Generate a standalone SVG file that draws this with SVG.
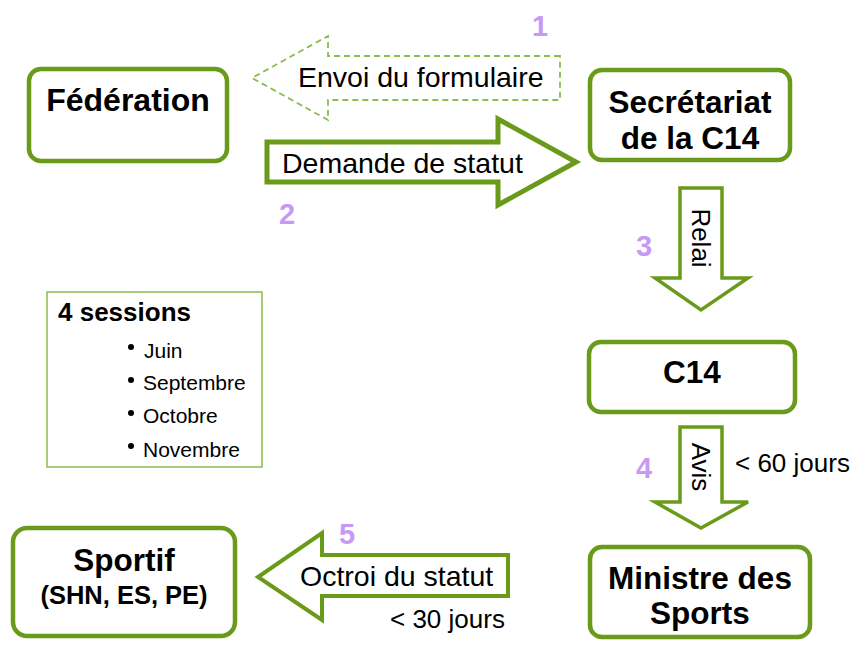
<svg xmlns="http://www.w3.org/2000/svg" width="852" height="646" viewBox="0 0 852 646">
<style>
.box{fill:#fff;stroke:#6a9a1a;stroke-width:4.5}
.arr{fill:#fff;stroke:#6a9a1a;stroke-linejoin:miter}
.t{font-family:"Liberation Sans",Arial,sans-serif;fill:#000}
.b{font-weight:bold}
.num{font-family:"Liberation Sans",Arial,sans-serif;font-weight:bold;fill:#c699f4;font-size:29px}
</style>
<rect width="852" height="646" fill="#fff"/>
<g id="connectors">
  <g id="envoi">
    <polygon points="560,56 328,56 328,36 252,78 328,120 328,100 560,100" fill="#fff" stroke="#8cbb4f" stroke-width="1.8" stroke-dasharray="6,4"/>
    <text class="t" x="298" y="87" font-size="28.5">Envoi du formulaire</text>
    <text class="num" x="540" y="36" text-anchor="middle">1</text>
  </g>
  <g id="demande">
    <polygon class="arr" stroke-width="5" points="267,142 498,142 498,119 576,162 498,205 498,182 267,182"/>
    <text class="t" x="282" y="173" font-size="28.5">Demande de statut</text>
    <text class="num" x="287" y="224" text-anchor="middle">2</text>
  </g>
  <g id="relai">
    <polygon class="arr" stroke-width="3.5" points="680,188 722,188 722,278 748,278 701,310 655,278 680,278"/>
    <text class="t" font-size="26" text-anchor="middle" transform="translate(701,238) rotate(90)" y="9">Relai</text>
    <text class="num" x="644" y="256" text-anchor="middle">3</text>
  </g>
  <g id="avis">
    <polygon class="arr" stroke-width="3.5" points="680,427 722,427 722,502 748,502 701,528 655,502 680,502"/>
    <text class="t" font-size="26" text-anchor="middle" transform="translate(701,467) rotate(90)" y="9">Avis</text>
    <text class="num" x="644" y="478" text-anchor="middle">4</text>
    <text class="t" x="735" y="472" font-size="26">&lt; 60 jours</text>
  </g>
  <g id="octroi">
    <polygon class="arr" stroke-width="4" points="508,555 322,555 322,533 258,577 322,620 322,596 508,596"/>
    <text class="t" x="300" y="586" font-size="28.5">Octroi du statut</text>
    <text class="num" x="347" y="544" text-anchor="middle">5</text>
    <text class="t" x="390" y="628" font-size="26">&lt; 30 jours</text>
  </g>
</g>
<g id="federation">
  <rect class="box" x="29" y="69" width="198" height="92" rx="12"/>
  <text class="t b" x="128" y="111" font-size="32" text-anchor="middle">Fédération</text>
</g>
<g id="secretariat">
  <rect class="box" x="590" y="70" width="200" height="90" rx="12"/>
  <text class="t b" x="690" y="113" font-size="31.5" text-anchor="middle">Secrétariat</text>
  <text class="t b" x="690" y="149" font-size="31.5" text-anchor="middle">de la C14</text>
</g>
<g id="c14">
  <rect class="box" x="589" y="342" width="206" height="70" rx="12"/>
  <text class="t b" x="692" y="383" font-size="31.5" text-anchor="middle">C14</text>
</g>
<g id="ministre">
  <rect class="box" x="590" y="547" width="220" height="90" rx="12"/>
  <text class="t b" x="700" y="589" font-size="31.5" text-anchor="middle">Ministre des</text>
  <text class="t b" x="700" y="624" font-size="31.5" text-anchor="middle">Sports</text>
</g>
<g id="sportif">
  <rect class="box" x="13" y="528" width="222" height="108" rx="14"/>
  <text class="t b" x="124" y="571" font-size="31.5" text-anchor="middle">Sportif</text>
  <text class="t b" x="124" y="604" font-size="25.5" text-anchor="middle">(SHN, ES, PE)</text>
</g>
<g id="sessions">
  <rect x="47" y="292" width="215" height="175" fill="#fff" stroke="#8cbb4f" stroke-width="1.5"/>
  <text class="t b" x="58" y="321" font-size="26">4 sessions</text>
  <g fill="#000">
    <circle cx="131" cy="347" r="3"/>
    <circle cx="131" cy="380" r="3"/>
    <circle cx="131" cy="413" r="3"/>
    <circle cx="131" cy="446" r="3"/>
  </g>
  <text class="t" x="144" y="358" font-size="21">Juin</text>
  <text class="t" x="143" y="390" font-size="21">Septembre</text>
  <text class="t" x="143" y="423" font-size="21">Octobre</text>
  <text class="t" x="143" y="457" font-size="21">Novembre</text>
</g>
</svg>
